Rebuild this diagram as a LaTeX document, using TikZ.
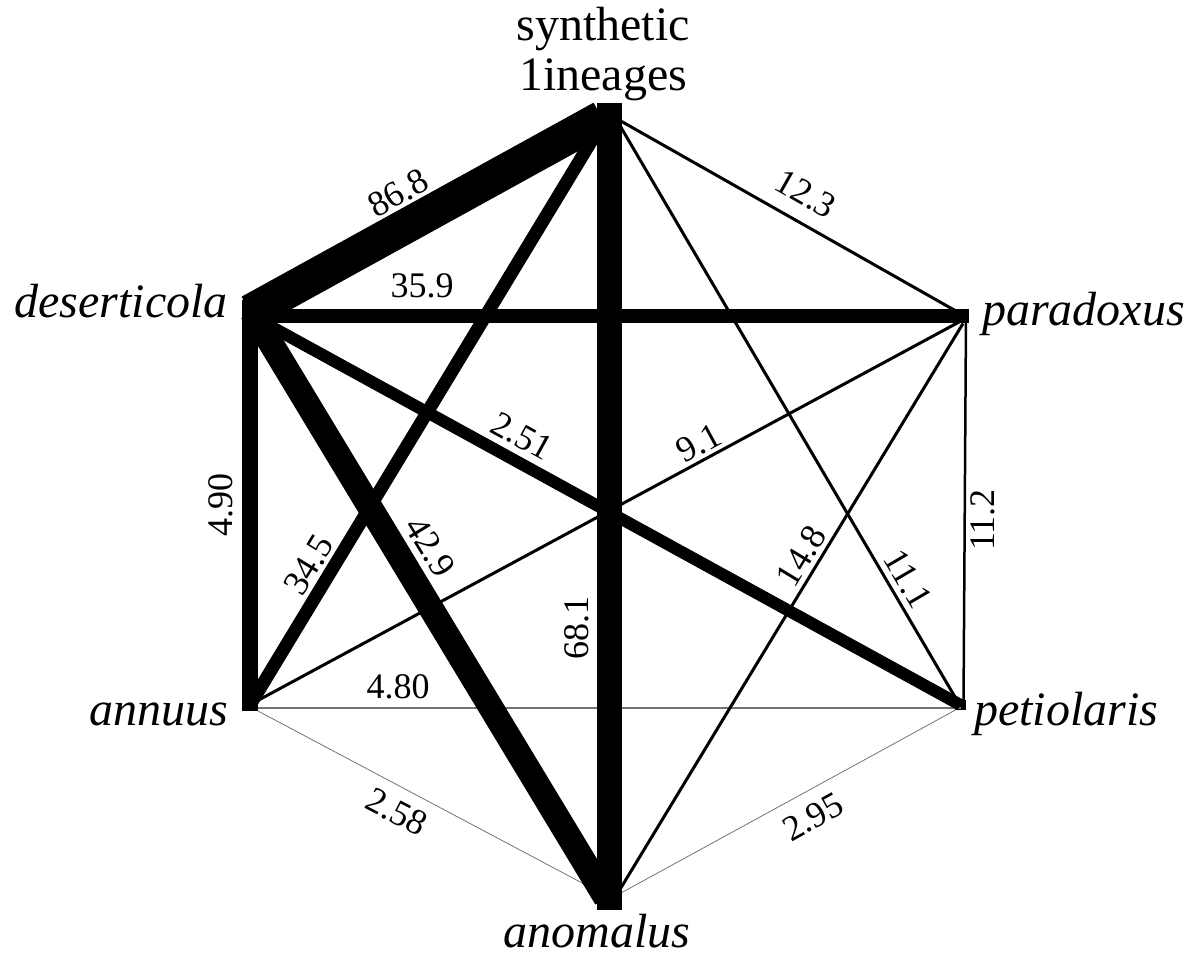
\documentclass[tikz,border=0pt]{standalone}
\usepackage{fontspec}
\setmainfont{Liberation Serif}
\usetikzlibrary{calc}
\begin{document}
\begin{tikzpicture}[x=1pt,y=-1pt,
  edge/.style={draw=black,line cap=butt},
  hair/.style={draw=black!55,line width=0.8pt,line cap=butt},
  thin/.style={edge,line width=3pt},
  lbl/.style={inner sep=0pt,font=\fontsize{36}{40}\selectfont},
  taxon/.style={inner sep=0pt,font=\fontsize{48}{50}\selectfont\itshape},
]
\useasboundingbox (0,0) rectangle (1194,955);
% vertices
\coordinate (S) at (609,112);
\coordinate (D) at (250,312);
\coordinate (P) at (963,315.5);
\coordinate (A) at (250,705);
\coordinate (An) at (609,901);
\node[fill=black,inner sep=0pt,minimum width=11pt,minimum height=10pt] (Pe) at (960.5,705) {};
% hairlines
\draw[hair,line width=1.1pt] ($(A)+(0,3)$) -- ($(Pe.center)+(0,3)$);
\draw[hair] ($(A)+(8,6)$) -- ($(An)+(-8,-8)$);
\draw[hair] ($(An)+(12,-8)$) -- ($(Pe.center)+(-5,5)$);
% thin black edges
\draw[thin] ($(S)+(10,8)$) -- ($(P)+(-8,-5)$);
\draw[thin] ($(S)+(10,12)$) -- ($(Pe.center)+(-2,-2)$);
\draw[thin] ($(A)+(5,-3)$) -- ($(P)+(-3,6)$);
\draw[thin] ($(An)+(10,-10)$) -- ($(P)+(0,8)$);
\draw[edge,line width=2.5pt] ($(P)+(3,2)$) -- ($(Pe.center)+(3,0)$);
% thick edges
\draw[edge,line width=12pt] ($(D)+(0,3)$) -- (Pe.center);
\draw[edge,line width=13pt] (A) -- (S);
\draw[edge,line width=14pt] ($(D)+(0,3.5)$) -- ($(P)+(6,0)$);
\draw[edge,line width=16pt] ($(D)+(0,-12)$) -- ($(A)+(0,6)$);
\draw[edge,line width=25pt] ($(D)+(2,0)$) -- ($(An)+(-3,-3)$);
\draw[edge,line width=25pt] ($(S)+(0,-9)$) -- ($(An)+(0,9)$);
\draw[edge,line width=35pt] (D) -- ($(S)+(-7,6)$);
% edge labels
\node[lbl,rotate=28.9] (l868) at (398,193) {86.8};
\node[lbl] (l359) at (422,286) {35.9};
\node[lbl,rotate=-29.6] (l123) at (806,194) {12.3};
\node[lbl,rotate=90] (l490) at (221,505) {4.90};
\node[lbl,rotate=-28.8] (l251) at (522,436) {2.51};
\node[lbl,rotate=58.8] (l345) at (309,565) {34.5};
\node[lbl,rotate=-58.6] (l429) at (430,547) {42.9};
\node[lbl,rotate=90] (l681) at (577,628) {68.1};
\node[lbl] (l480) at (398,687) {4.80};
\node[lbl,rotate=28.5] (l91) at (699,443) {9.1};
\node[lbl,rotate=58.8] (l148) at (801,556) {14.8};
\node[lbl,rotate=-59.6] (l111) at (908,579) {11.1};
\node[lbl,rotate=90] (l112) at (983,520) {11.2};
\node[lbl,rotate=-27.4] (l258) at (397,812) {2.58};
\node[lbl,rotate=28.9] (l295) at (813,817) {2.95};
% taxon names
\node[taxon,font=\fontsize{48}{50}\selectfont,anchor=north,align=center] (tS) at (603,7) {synthetic\\1ineages};
\node[taxon,anchor=base east] (tD) at (228,317) {deserticola};
\node[taxon,anchor=base west] (tP) at (982,325) {paradoxus};
\node[taxon,anchor=base east] (tA) at (228,725) {annuus};
\node[taxon,anchor=base west] (tPe) at (974,725) {petiolaris};
\node[taxon,anchor=base] (tAn) at (597,947) {anomalus};
\end{tikzpicture}
\end{document}
